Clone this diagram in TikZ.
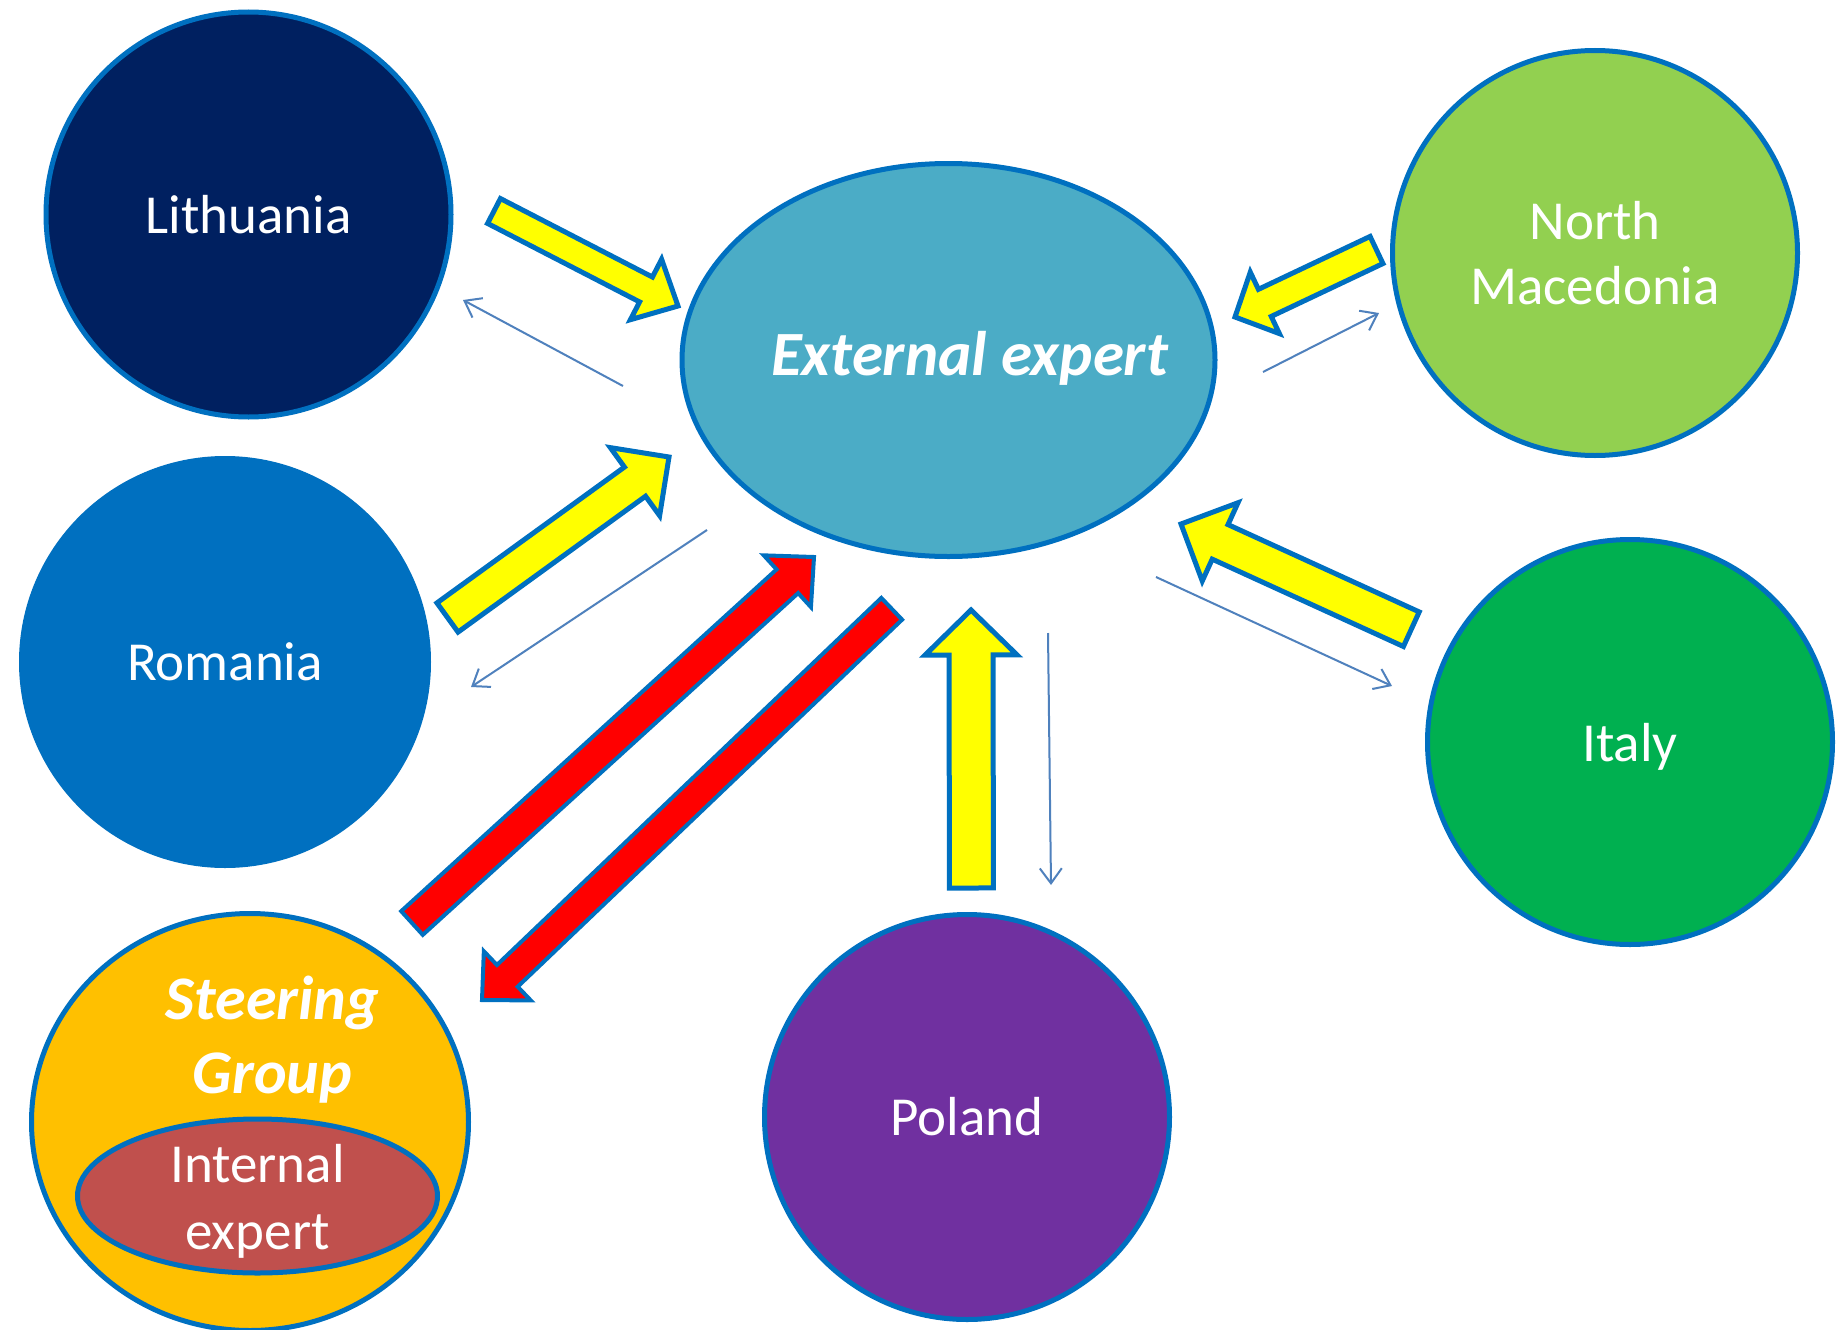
\documentclass[tikz,border=0pt]{standalone}
\usepackage{fontspec}
\setmainfont{Carlito}
\usetikzlibrary{calc,arrows.meta,shapes.geometric}
\definecolor{edgeblue}{HTML}{0070C0}
\definecolor{lithblue}{HTML}{002060}
\definecolor{romblue}{HTML}{0070C0}
\definecolor{steergold}{HTML}{FFC000}
\definecolor{intred}{HTML}{C0504D}
\definecolor{extteal}{HTML}{4BACC6}
\definecolor{macgreen}{HTML}{92D050}
\definecolor{itagreen}{HTML}{00B050}
\definecolor{polpurple}{HTML}{7030A0}
\definecolor{thinblue}{HTML}{4F81BD}
\definecolor{arrowyellow}{HTML}{FFFF00}
\definecolor{arrowred}{HTML}{FF0000}
\newcommand\blockarrow[6]{%
  \coordinate (tmpH) at ($(#3)!#6!(#2)$);
  \draw[#1] ($(#2)!#4!90:(#3)$) -- ($(tmpH)!#4!90:(#3)$) -- ($(tmpH)!#5!90:(#3)$) -- (#3)
    -- ($(tmpH)!#5!-90:(#3)$) -- ($(tmpH)!#4!-90:(#3)$) -- ($(#2)!#4!-90:(#3)$) -- cycle;
}
\begin{document}
\begin{tikzpicture}[x=1pt,y=-1pt,
  country/.style={circle, draw=edgeblue, line width=5pt, minimum size=405pt, inner sep=0pt,
    text=white, align=center, font=\fontsize{55}{65}\selectfont},
  oval/.style={ellipse, draw=edgeblue, line width=5pt, inner sep=0pt},
  yarrow/.style={draw=edgeblue, fill=arrowyellow, line width=5pt, line join=miter},
  rarrow/.style={draw=edgeblue, fill=arrowred, line width=4pt, line join=miter},
  thin/.style={draw=thinblue, line width=2pt, -{Straight Barb[length=15pt,width=22pt,line width=2pt]}}]
\fill[white] (0,0) rectangle (1847,1330);
\useasboundingbox (0,0) rectangle (1847,1330);

% countries
\node[country, fill=lithblue] (lith) at (248.5,214.5) {Lithuania};
\node[country, fill=romblue, minimum size=407pt] (rom) at (225,662) {Romania};
\node[country, fill=macgreen] (mac) at (1595,253) {North\\Macedonia};
\node[country, fill=itagreen] (ita) at (1630,742) {\raisebox{-5pt}[\height][\depth]{Italy}};
\node[country, fill=polpurple] (pol) at (967,1117) {Poland};

% steering group
\node[oval, fill=steergold, minimum width=437pt, minimum height=417pt] (steer) at (250,1122) {};
\node[text=white, align=center, font=\fontsize{62}{74}\selectfont\bfseries\itshape] (steertext) at (272.5,1040) {Steering\\Group};
\node[oval, fill=intred, minimum width=360pt, minimum height=154pt] (internal) at (257.5,1196) {};
\node[text=white, align=center, font=\fontsize{55}{67}\selectfont] (internaltext) at (257.5,1201) {Internal\\expert};

% external expert
\node[oval, fill=extteal, minimum width=533pt, minimum height=393pt] (ext) at (948.5,360) {};
\node[text=white, font=\fontsize{63}{72}\selectfont\bfseries\itshape] (exttext) at (969.5,358) {External expert};

% block arrow end points
\coordinate (y1a) at (494,211);     \coordinate (y1b) at (678,306);
\coordinate (y2a) at (447.5,617.5); \coordinate (y2b) at (669,457);
\coordinate (y3a) at (1376.5,250);  \coordinate (y3b) at (1235,317);
\coordinate (y4a) at (1411.3,629.2);\coordinate (y4b) at (1181,524);
\coordinate (y5a) at (971.4,888);   \coordinate (y5b) at (971,610);
\coordinate (r1a) at (412,923);     \coordinate (r1b) at (814,557);
\coordinate (r2a) at (891.7,608.8); \coordinate (r2b) at (482,1000);

\blockarrow{yarrow}{y1a}{y1b}{14pt}{34pt}{36pt}
\blockarrow{yarrow}{y2a}{y2b}{18pt}{42pt}{42pt}
\blockarrow{yarrow}{y3a}{y3b}{15pt}{34pt}{33pt}
\blockarrow{yarrow}{y4a}{y4b}{19pt}{43pt}{43pt}
\blockarrow{yarrow}{y5a}{y5b}{22pt}{46pt}{45pt}
\blockarrow{rarrow}{r1a}{r1b}{16pt}{35pt}{36pt}
\blockarrow{rarrow}{r2a}{r2b}{15pt}{34pt}{35pt}

% thin arrows
\coordinate (t1a) at (623,386);  \coordinate (t1b) at (463,300);
\coordinate (t2a) at (707,530);  \coordinate (t2b) at (471,687);
\coordinate (t3a) at (1263,372); \coordinate (t3b) at (1379,313);
\coordinate (t4a) at (1156,577); \coordinate (t4b) at (1392,686);
\coordinate (t5a) at (1048,633); \coordinate (t5b) at (1051,885);
\draw[thin] (t1a) -- (t1b);
\draw[thin] (t2a) -- (t2b);
\draw[thin] (t3a) -- (t3b);
\draw[thin] (t4a) -- (t4b);
\draw[thin] (t5a) -- (t5b);
\end{tikzpicture}
\end{document}
